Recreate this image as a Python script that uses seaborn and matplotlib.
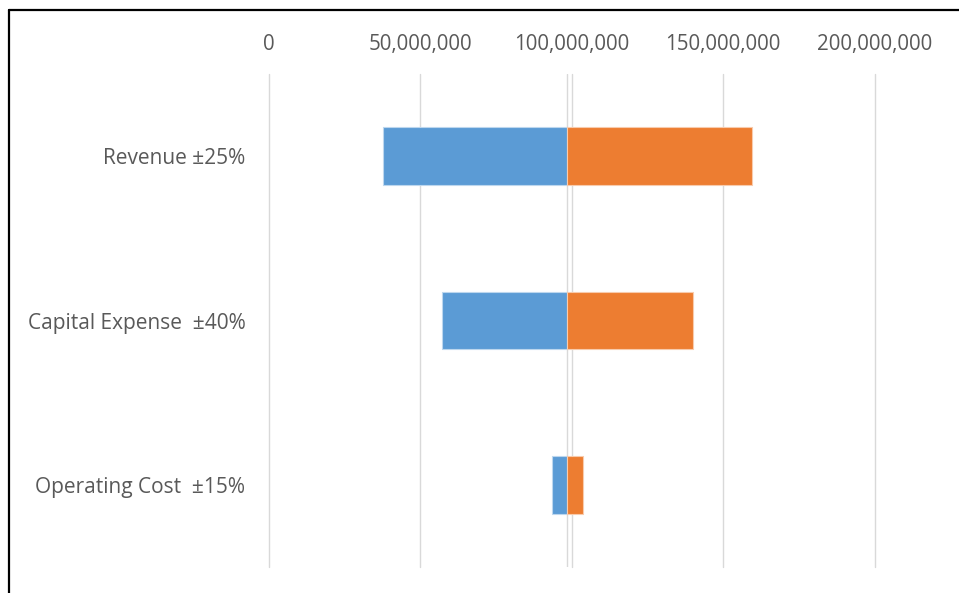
import matplotlib
matplotlib.use("Agg")
import matplotlib.pyplot as plt
from matplotlib.lines import Line2D
from matplotlib.ticker import FuncFormatter
import pandas as pd
import seaborn as sns

# Sensitivity inputs (NPV outcomes at low / high settings of each driver)
drivers = ["Revenue \u00b125%", "Capital Expense  \u00b140%", "Operating Cost  \u00b115%"]
base_value = 98.5e6
low_values = [37.6e6, 57.1e6, 93.5e6]
high_values = [159.6e6, 140.1e6, 103.7e6]
x_ticks = [0, 50e6, 100e6, 150e6, 200e6]

BLUE = "#5B9BD5"
ORANGE = "#ED7D31"
GRID = "#D9D9D9"
TEXT = "#595959"

sns.set_style("white")
plt.rcParams["font.family"] = ["Open Sans", "DejaVu Sans"]

df = pd.DataFrame({
    "driver": drivers,
    "low_delta": [v - base_value for v in low_values],
    "high_delta": [v - base_value for v in high_values],
})

fig = plt.figure(figsize=(9.59, 5.93), dpi=100)
ax = fig.add_axes([0.2805, 0.0438, 0.912 - 0.2805, 0.8752 - 0.0438])

for x in x_ticks:
    ax.axvline(x, color=GRID, lw=1.0, zorder=0, clip_on=False)
ax.axvline(base_value, color=GRID, lw=1.0, zorder=0)

sns.barplot(data=df, y="driver", x="low_delta", orient="h", color=BLUE,
            saturation=1, width=0.35, errorbar=None, left=base_value,
            edgecolor="#BDD7EE", linewidth=0.8, ax=ax, zorder=2)
sns.barplot(data=df, y="driver", x="high_delta", orient="h", color=ORANGE,
            saturation=1, width=0.35, errorbar=None, left=base_value,
            edgecolor="#F8CBAD", linewidth=0.8, ax=ax, zorder=2)

ax.set_xlim(0, 200e6)
ax.set_ylim(2.5, -0.5)
ax.set_xticks(x_ticks)
ax.xaxis.set_major_formatter(FuncFormatter(lambda v, p: f"{v:,.0f}"))
ax.xaxis.tick_top()
ax.tick_params(axis="x", length=0, pad=14, labelsize=14.8, labelcolor=TEXT)
ax.tick_params(axis="y", length=0, pad=17, labelsize=15, labelcolor=TEXT)
ax.set_xlabel("")
ax.set_ylabel("")
for s in ax.spines.values():
    s.set_visible(False)

# Frame lines along the top and left edges of the figure
W, H = 959, 593
fig.add_artist(Line2D([9 / W, 1.0], [1 - 10 / H, 1 - 10 / H], color="black",
                      lw=1.6, transform=fig.transFigure))
fig.add_artist(Line2D([9 / W, 9 / W], [0.0, 1 - 10 / H], color="black",
                      lw=1.6, transform=fig.transFigure))

fig.savefig("out.png", dpi=100, facecolor="white")
